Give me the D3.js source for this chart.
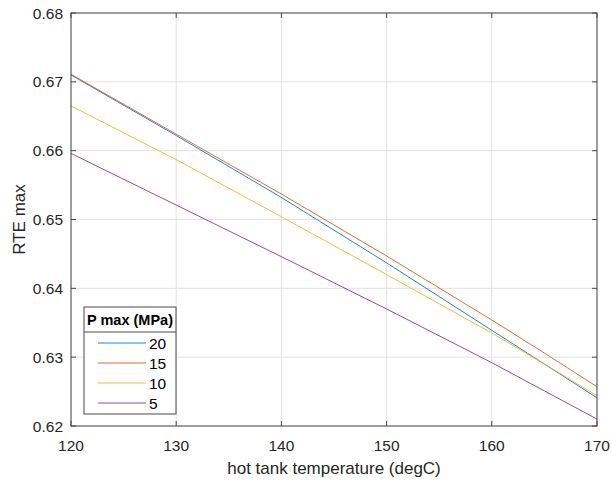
<!DOCTYPE html>
<html>
<head>
<meta charset="utf-8">
<script src="https://cdn.jsdelivr.net/npm/d3@7"></script>
<style>
  body { margin: 0; background: #fff; }
  text { font-family: "Liberation Sans", Arial, sans-serif; fill: #262626; }
</style>
</head>
<body>
<div id="chart"></div>
<script>
(() => {
  const width = 611, height = 481;
  const margin = { top: 13, right: 14, bottom: 55, left: 71 };

  // Data
  const temps = [120, 130, 140, 150, 160, 165, 170];
  const series = ["20", "15", "10", "5"];
  const rte20 = [0.6710, 0.6622, 0.6532, 0.6437, 0.6339, 0.6290, 0.6241];
  const rte15 = [0.6711, 0.6624, 0.6537, 0.6447, 0.6354, 0.6306, 0.6257];
  const rte10 = [0.6665, 0.6587, 0.6504, 0.6420, 0.6335, 0.6290, 0.6244];
  const rte5  = [0.6596, 0.6521, 0.6446, 0.6370, 0.6292, 0.6251, 0.6210];
  const xTicks = [120, 130, 140, 150, 160, 170];
  const yTicks = [0.62, 0.63, 0.64, 0.65, 0.66, 0.67, 0.68];
  const colors = ["#0072BD", "#D95319", "#EDB120", "#7E2F8E"];

  const values = [rte20, rte15, rte10, rte5];

  const svg = d3.select("#chart").append("svg")
    .attr("width", width)
    .attr("height", height);

  const x = d3.scaleLinear().domain([120, 170]).range([margin.left, width - margin.right]);
  const y = d3.scaleLinear().domain([0.62, 0.68]).range([height - margin.bottom, margin.top]);

  const x0 = x.range()[0], x1 = x.range()[1];
  const y0 = y.range()[0], y1 = y.range()[1];

  // grid
  svg.append("g")
    .selectAll("line.gx")
    .data(xTicks)
    .join("line")
    .attr("x1", d => x(d)).attr("x2", d => x(d))
    .attr("y1", y1).attr("y2", y0)
    .attr("stroke", "#e3e3e3").attr("stroke-width", 1);
  svg.append("g")
    .selectAll("line.gy")
    .data(yTicks)
    .join("line")
    .attr("x1", x0).attr("x2", x1)
    .attr("y1", d => y(d)).attr("y2", d => y(d))
    .attr("stroke", "#e3e3e3").attr("stroke-width", 1);

  // lines
  const line = d3.line()
    .x((_, i) => x(temps[i]))
    .y(d => y(d));

  svg.append("g")
    .selectAll("path")
    .data(values)
    .join("path")
    .attr("fill", "none")
    .attr("stroke", (_, i) => colors[i])
    .attr("stroke-width", 1)
    .attr("opacity", 0.85)
    .attr("d", line);

  // axes box
  const axisColor = "#4a4a4a";
  svg.append("rect")
    .attr("x", x0).attr("y", y1)
    .attr("width", x1 - x0).attr("height", y0 - y1)
    .attr("fill", "none").attr("stroke", axisColor).attr("stroke-width", 1);

  // ticks inside on all four sides
  const tl = 5;
  xTicks.forEach(t => {
    svg.append("line").attr("x1", x(t)).attr("x2", x(t)).attr("y1", y0).attr("y2", y0 - tl).attr("stroke", axisColor);
    svg.append("line").attr("x1", x(t)).attr("x2", x(t)).attr("y1", y1).attr("y2", y1 + tl).attr("stroke", axisColor);
  });
  yTicks.forEach(t => {
    svg.append("line").attr("x1", x0).attr("x2", x0 + tl).attr("y1", y(t)).attr("y2", y(t)).attr("stroke", axisColor);
    svg.append("line").attr("x1", x1).attr("x2", x1 - tl).attr("y1", y(t)).attr("y2", y(t)).attr("stroke", axisColor);
  });

  // tick labels
  svg.append("g")
    .selectAll("text")
    .data(xTicks)
    .join("text")
    .attr("x", d => x(d))
    .attr("y", y0 + 25)
    .attr("text-anchor", "middle")
    .attr("font-size", "15.5px")
    .text(d => d);

  svg.append("g")
    .selectAll("text")
    .data(yTicks)
    .join("text")
    .attr("x", x0 - 8)
    .attr("y", d => y(d) + 5.5)
    .attr("text-anchor", "end")
    .attr("font-size", "15.5px")
    .text(d => d.toFixed(2));

  // axis labels
  svg.append("text")
    .attr("x", (x0 + x1) / 2)
    .attr("y", 474)
    .attr("text-anchor", "middle")
    .attr("font-size", "17px")
    .text("hot tank temperature (degC)");

  svg.append("text")
    .attr("transform", `translate(25,${(y0 + y1) / 2}) rotate(-90)`)
    .attr("text-anchor", "middle")
    .attr("font-size", "17px")
    .text("RTE max");

  // legend
  const lg = svg.append("g").attr("transform", "translate(84,307)");
  const lw = 92, lh = 107;
  lg.append("rect")
    .attr("width", lw).attr("height", lh)
    .attr("fill", "#fff").attr("stroke", axisColor).attr("stroke-width", 1);
  lg.append("line")
    .attr("x1", 0).attr("x2", lw).attr("y1", 25).attr("y2", 25)
    .attr("stroke", axisColor).attr("stroke-width", 1);
  lg.append("text")
    .attr("x", lw / 2).attr("y", 18)
    .attr("text-anchor", "middle")
    .attr("font-size", "14.5px")
    .attr("font-weight", "bold")
    .style("fill", "#000")
    .text("P max (MPa)");

  const items = lg.selectAll("g.item")
    .data(series)
    .join("g")
    .attr("transform", (_, i) => `translate(0,${36 + i * 20})`);
  items.append("line")
    .attr("x1", 14).attr("x2", 62)
    .attr("stroke", (_, i) => colors[i])
    .attr("stroke-width", 1)
    .attr("opacity", 0.85);
  items.append("text")
    .attr("x", 65).attr("y", 5.5)
    .attr("font-size", "15.5px")
    .style("fill", "#000")
    .text(d => d);
})();
</script>
</body>
</html>
